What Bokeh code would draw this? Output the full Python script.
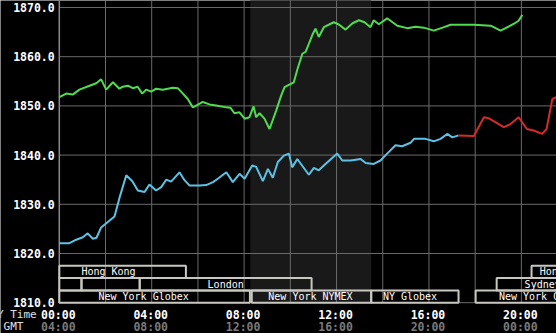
from bokeh.plotting import figure
from bokeh.models import Range1d
from bokeh.core.properties import value
from bokeh.embed import file_html
from bokeh.resources import INLINE

# ---- data (time in hours, NY time) ----
green_t = [0.0, 0.3, 0.58, 0.87, 1.31, 1.6, 1.81, 2.03, 2.32, 2.6, 2.75, 2.97, 3.18, 3.39, 3.59, 3.76,
           3.98, 4.19, 4.48, 4.91, 5.13, 5.35, 5.56, 5.78, 5.98, 6.21, 6.5, 6.79, 7.23, 7.41, 7.58, 7.8,
           8.02, 8.23, 8.41, 8.52, 8.67, 8.88, 9.1, 9.39, 9.61, 9.75, 9.87, 10.15, 10.31, 10.52, 10.66,
           10.8, 10.96, 11.09, 11.23, 11.45, 11.88, 12.08, 12.39, 12.69, 12.97, 13.21, 13.47, 13.61,
           13.83, 14.19, 14.63, 15.06, 15.42, 15.78, 16.21, 16.59, 16.94, 17.94, 18.67, 19.1, 19.68,
           19.88, 20.04]
green_v = [1851.8, 1852.5, 1852.3, 1853.3, 1854.1, 1854.6, 1855.4, 1853.3, 1854.8, 1853.5, 1853.9, 1854.1,
           1853.6, 1853.9, 1852.5, 1853.3, 1852.9, 1853.5, 1853.3, 1853.7, 1853.6, 1852.5, 1851.4, 1849.7,
           1850.2, 1850.8, 1850.3, 1850.1, 1849.7, 1849.6, 1848.5, 1848.7, 1847.4, 1847.7, 1849.9, 1847.7,
           1848.5, 1847.4, 1845.3, 1849.1, 1852.2, 1853.8, 1854.1, 1854.8, 1857.5, 1860.6, 1861.0, 1862.6,
           1864.5, 1865.7, 1864.0, 1866.0, 1867.0, 1866.6, 1865.5, 1866.8, 1867.4, 1867.0, 1866.0, 1867.4,
           1866.6, 1867.8, 1866.3, 1865.8, 1866.1, 1865.9, 1865.3, 1865.9, 1866.5, 1866.5, 1866.3, 1865.3,
           1866.7, 1867.3, 1868.5]

blue_t = [0.0, 0.44, 0.73, 1.02, 1.23, 1.45, 1.61, 1.81, 2.1, 2.39, 2.61, 2.9, 3.16, 3.4, 3.69, 3.9, 4.19,
          4.41, 4.63, 4.84, 5.2, 5.42, 5.64, 6.07, 6.36, 6.65, 6.86, 7.23, 7.51, 7.8, 8.02, 8.35, 8.52,
          8.81, 9.03, 9.24, 9.46, 9.72, 9.94, 10.08, 10.3, 10.8, 11.02, 11.23, 11.52, 12.03, 12.25, 12.61,
          13.04, 13.26, 13.61, 13.9, 14.19, 14.55, 14.84, 15.2, 15.35, 15.85, 16.21, 16.5, 16.79, 17.01,
          17.28]
blue_v = [1822.1, 1822.1, 1822.8, 1823.3, 1824.1, 1823.0, 1823.2, 1825.3, 1826.4, 1827.5, 1831.4, 1835.9,
          1834.7, 1832.8, 1832.5, 1834.0, 1832.8, 1833.5, 1835.0, 1834.6, 1836.5, 1834.9, 1833.8, 1833.8,
          1833.9, 1834.5, 1835.2, 1836.5, 1834.5, 1836.2, 1835.2, 1837.9, 1837.6, 1834.7, 1837.2, 1835.4,
          1838.6, 1839.9, 1840.3, 1837.5, 1839.2, 1836.0, 1837.4, 1836.9, 1838.2, 1840.3, 1838.9, 1838.9,
          1839.2, 1838.4, 1838.2, 1838.9, 1840.3, 1842.0, 1841.8, 1842.5, 1843.3, 1843.3, 1842.8, 1843.3,
          1844.3, 1843.6, 1844.0]

red_t = [17.28, 17.94, 18.38, 18.58, 19.24, 19.53, 19.88, 20.24, 20.53, 20.9, 21.09, 21.34, 21.52]
red_v = [1844.0, 1843.9, 1847.7, 1847.5, 1845.7, 1846.3, 1847.7, 1845.3, 1845.0, 1844.3, 1845.3, 1851.4, 1851.8]

# ---- ticks and labels ----
y_ticks = [1810, 1820, 1830, 1840, 1850, 1860, 1870]
y_labels = ["1810.0", "1820.0", "1830.0", "1840.0", "1850.0", "1860.0", "1870.0"]
grid_x = [2, 4, 6, 8, 10, 12, 14, 16, 18, 20]
time_ticks = [0, 4, 8, 12, 16, 20]
ny_labels = ["00:00", "04:00", "08:00", "12:00", "16:00", "20:00"]
gmt_labels = ["04:00", "08:00", "12:00", "16:00", "20:00", "00:00"]
row_titles = ["NY Time", "GMT"]

# NYMEX floor session shading
shade_start = [8.27]
shade_end = [13.5]

# trading session boxes
sess_left = [0.0, 20.44, 0.0, 0.96, 3.48, 18.93, 0.0, 8.33, 13.5, 18.02]
sess_right = [5.48, 23.0, 0.96, 3.48, 10.92, 23.0, 8.25, 13.5, 17.28, 23.0]
sess_row = [2, 2, 1, 1, 1, 1, 0, 0, 0, 0]
sess_names = ["Hong Kong", "Hong Kong", "London", "Sydney", "New York Globex", "New York NYMEX",
              "NY Globex", "New York Globex"]
name_x = [2.13, 20.79, 7.2, 20.14, 3.65, 10.87, 15.18, 19.03]
name_row = [2, 2, 1, 1, 0, 0, 0, 0]
name_align = ["center", "left", "center", "left", "center", "center", "center", "left"]

# layout constants (data units)
X_MIN, X_MAX = -2.545, 21.52
Y_MIN, Y_MAX = 1803.74, 1871.42
Y0 = 1810.0
ROW_H = 2.5
NY_ROW_Y = 1807.6
GMT_ROW_Y = 1805.1
YLAB_X = -0.2
TITLE_X = -1.98

FONT = value("DejaVu Sans Mono")

p = figure(width=556, height=333, output_backend="svg", toolbar_location=None,
           x_range=Range1d(X_MIN, X_MAX), y_range=Range1d(Y_MIN, Y_MAX),
           min_border=0, background_fill_color="black", border_fill_color="black",
           outline_line_color=None, x_axis_location=None, y_axis_location=None)
p.xgrid.visible = False
p.ygrid.visible = False

# shading
p.quad(left=shade_start, right=shade_end, bottom=Y0, top=Y_MAX + 5,
       fill_color="#191919", line_color=None)

# grid lines
p.segment(x0=grid_x, y0=[Y0] * len(grid_x), x1=grid_x, y1=[Y_MAX + 5] * len(grid_x),
          line_color="#6a6a6a", line_width=1)
p.segment(x0=[0] * len(y_ticks), y0=y_ticks, x1=[X_MAX + 1] * len(y_ticks), y1=y_ticks,
          line_color="#6a6a6a", line_width=1)
# left frame edge
p.segment(x0=[0], y0=[Y0], x1=[0], y1=[Y_MAX + 5], line_color="#8a8a8a", line_width=1.5)

# y tick labels
p.text(x=[YLAB_X] * len(y_ticks), y=y_ticks, text=y_labels, text_align="right",
       text_baseline="middle", text_color="white", text_font=FONT,
       text_font_style="bold", text_font_size="11.5px")

# time labels
p.text(x=time_ticks, y=[NY_ROW_Y] * len(time_ticks), text=ny_labels, text_align="center",
       text_baseline="middle", text_color="white", text_font=FONT,
       text_font_style="bold", text_font_size="11.5px", x_offset=-1)
p.text(x=time_ticks, y=[GMT_ROW_Y] * len(time_ticks), text=gmt_labels, text_align="center",
       text_baseline="middle", text_color="#7a7a7a", text_font=FONT,
       text_font_style="bold", text_font_size="11.5px", x_offset=-1)
p.text(x=[TITLE_X, TITLE_X], y=[NY_ROW_Y, GMT_ROW_Y], text=row_titles, text_align="center",
       text_baseline="middle", text_color="#e0e0e0", text_font=FONT, text_font_size="11px")

# session boxes
p.quad(left=sess_left, right=sess_right,
       bottom=[Y0 + r * ROW_H for r in sess_row], top=[Y0 + (r + 1) * ROW_H for r in sess_row],
       fill_alpha=0, line_color="#c8c8c0", line_width=2)
p.text(x=name_x, y=[Y0 + (r + 0.5) * ROW_H for r in name_row], text=sess_names,
       text_align=name_align, text_baseline="middle", text_color="white",
       text_font=FONT, text_font_size="10px")

# price lines
p.line(green_t, green_v, line_color="#4fdc4f", line_width=2)
p.line(blue_t, blue_v, line_color="#5cc3e6", line_width=2)
p.line(red_t, red_v, line_color="#d62a2a", line_width=2)

open("out.html", "w").write(file_html(p, INLINE))
